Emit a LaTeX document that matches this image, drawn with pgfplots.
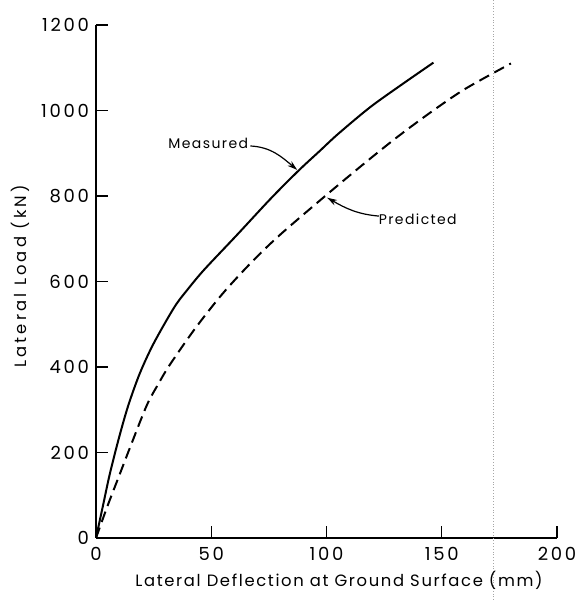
\documentclass[border=0pt]{standalone}
\usepackage{fontspec}
\setmainfont{Poppins}[LetterSpace=10]
\usepackage{pgfplots}
\pgfplotsset{compat=1.18}
\usetikzlibrary{arrows.meta}

\begin{document}
\begin{tikzpicture}
\path[use as bounding box] (0,0) rectangle (294pt,300pt);
\begin{axis}[
  at={(48pt,31pt)}, anchor=south west,
  scale only axis, width=230.5pt, height=256.5pt,
  xmin=0, xmax=200, ymin=0, ymax=1200,
  xtick={0,50,...,200}, ytick={0,200,...,1200},
  axis x line=bottom, axis y line=left,
  axis line style={-, line width=1.3pt},
  tick align=inside, major tick length=6pt,
  tick style={line width=0.6pt, black},
  /pgf/number format/assume math mode=true,
  /pgf/number format/1000 sep={},
  ticklabel style={font=\fontsize{9}{10}\selectfont\addfontfeature{LetterSpace=15}},
  xticklabel style={yshift=-1pt},
  xlabel={Lateral Deflection at Ground Surface (mm)},
  ylabel={Lateral Load (kN)},
  xlabel style={font=\fontsize{8.2}{9}\selectfont,
    at={(axis description cs:0.527,-0.082)}, anchor=center},
  ylabel style={font=\fontsize{8.2}{9}\selectfont\addfontfeature{LetterSpace=19},
    at={(axis description cs:-0.163,0.51)}, anchor=center},
  clip=false,
]
% scan artefact: faint dotted vertical line
\addplot[gray!70, densely dotted, line width=0.4pt, forget plot]
  coordinates {(172.6,-145) (172.6,1258)};

% measured
\addplot[black, line width=1pt, smooth, tension=0.5] coordinates {
  (0,0) (3,75) (6,150) (10,235) (14,310) (19,385) (25,455) (34,540)
  (40,583) (47,628) (61,708) (76,795) (88,860) (97,905) (105,945)
  (119,1008) (133,1062) (146.4,1112)
};

% predicted
\addplot[black, line width=1pt, dash pattern=on 5.5pt off 3pt, smooth, tension=0.5] coordinates {
  (0,0) (5,75) (10,145) (15,215) (22,310) (27,360) (32,405) (43,490)
  (55,572) (68,648) (80,710) (99,798) (115,870) (130,935) (145,995)
  (160,1050) (180,1110)
};

\node[font=\fontsize{7}{8}\selectfont] at (48.7,922) {Measured};
\draw[line width=0.6pt, -{Stealth[length=5pt,width=3pt]}]
  (67,917) to[out=-3,in=140] (87.3,861);
\node[font=\fontsize{7}{8}\selectfont] at (139.6,746) {Predicted};
\draw[line width=0.6pt, -{Stealth[length=5pt,width=3pt]}]
  (122.7,753) to[out=175,in=-30] (100.3,796);
\end{axis}
\end{tikzpicture}
\end{document}
